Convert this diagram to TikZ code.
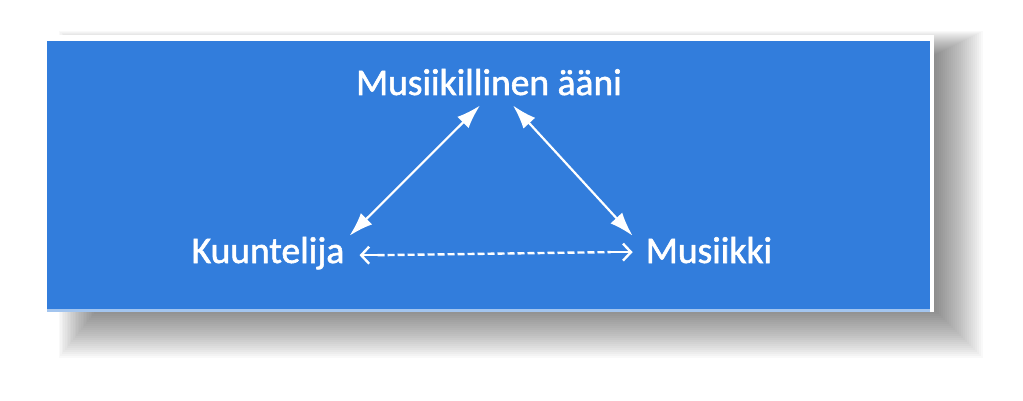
\documentclass[tikz,border=0pt]{standalone}
\usepackage{fontspec}
\setmainfont{Carlito}[FakeBold=1.5]
\usetikzlibrary{arrows.meta}
\definecolor{panelblue}{RGB}{50,125,220}
\begin{document}
\begin{tikzpicture}[x=1pt,y=-1pt,
		lbl/.style={text=white,font=\fontsize{37.5}{44}\selectfont,inner sep=3pt},
		link/.style={white,line width=2.2pt,{Latex[length=24pt,width=16pt]}-{Latex[length=24pt,width=16pt]}},
		dlink/.style={white,line width=2.4pt,dash pattern=on 7pt off 3pt},
		tip/.style={white,line width=2.4pt,-{Straight Barb[length=8pt,width=17pt]}}]
		\useasboundingbox (0,0) rectangle (1023,401);
		% shadow
		\foreach \i in {0,...,29}
			\fill[black,opacity=0.025] (105-\i*1.6,60-\i*1.0) rectangle (925+\i*2,300+\i*2);
		\fill[white] (43,35) rectangle (934,312);
		\fill[panelblue!45] (47,309) rectangle (930,312);
		\fill[panelblue] (47,41) rectangle (930,309);
		\node[lbl,anchor=base] (snd) at (489,95) {Musiikillinen ääni};
		\node[lbl,anchor=base] (kuu) at (268,263) {Kuuntelija};
		\node[lbl,anchor=base] (mus) at (709,263) {Musiikki};
		\draw[link] ([xshift=-9pt,yshift=-7pt]snd.south) -- ([xshift=2pt,yshift=-2pt]kuu.north east);
		\draw[link] ([xshift=24pt,yshift=-7pt]snd.south) -- ([xshift=-10pt,yshift=-2pt]mus.north west);
		\draw[dlink] ([xshift=30pt,yshift=-2pt]kuu.east) -- ([xshift=-32pt,yshift=-2pt]mus.west);
		\draw[tip] ([xshift=34pt,yshift=-2pt]kuu.east) -- ([xshift=12pt,yshift=-2pt]kuu.east);
		\draw[tip] ([xshift=-33pt,yshift=-2pt]mus.west) -- ([xshift=-10pt,yshift=-2pt]mus.west);
\end{tikzpicture}
\end{document}
